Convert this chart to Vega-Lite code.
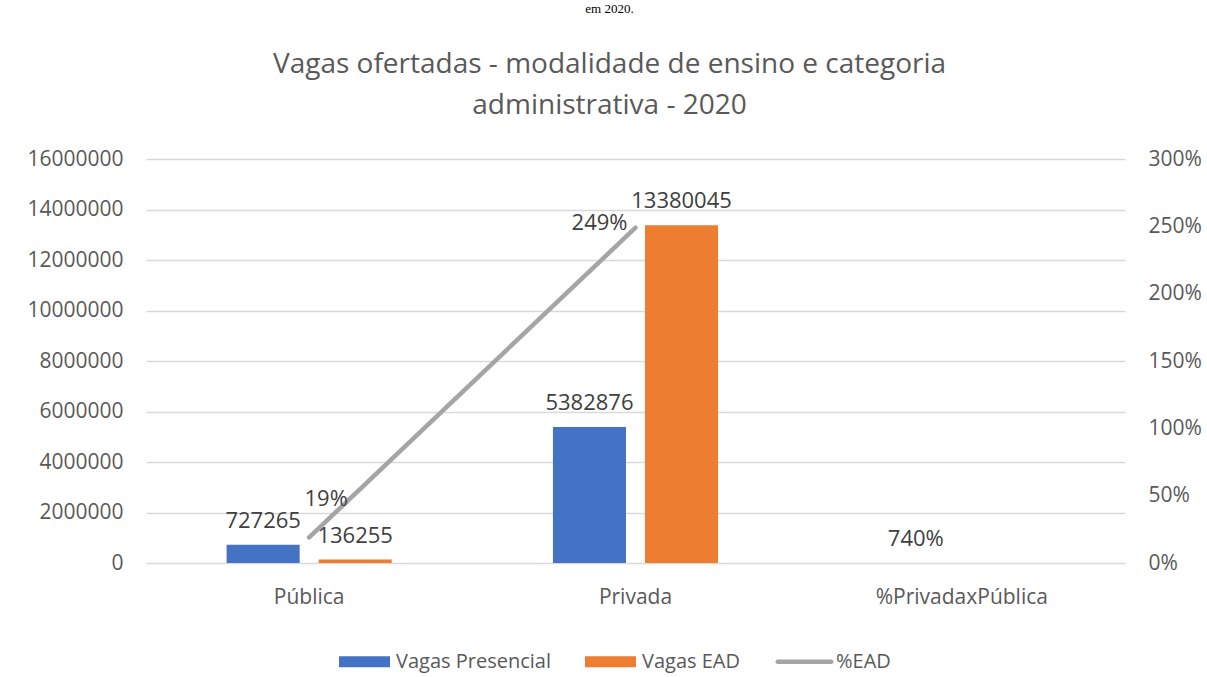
{
  "$schema": "https://vega.github.io/schema/vega-lite/v6.json",
  "autosize": {"type": "none"},
  "width": 979,
  "height": 404,
  "padding": {"left": 146, "top": 159, "right": 82, "bottom": 114},
  "background": "#ffffff",
  "title": {
    "text": "em 2020.",
    "font": "Liberation Serif",
    "fontSize": 13,
    "fontWeight": "normal",
    "color": "#000000",
    "subtitle": ["Vagas ofertadas - modalidade de ensino e categoria", "administrativa - 2020"],
    "subtitleFont": "Open Sans",
    "subtitleFontSize": 28,
    "subtitleColor": "#595959",
    "subtitleLineHeight": 41,
    "subtitlePadding": 35,
    "anchor": "middle",
    "frame": "group",
    "dx": -26,
    "offset": 28
  },
  "data": {
    "values": [
      {"categoria": "Pública", "serie": "Vagas Presencial", "valor": 727265, "rotulo": "727265"},
      {"categoria": "Pública", "serie": "Vagas EAD", "valor": 136255, "rotulo": "136255"},
      {"categoria": "Privada", "serie": "Vagas Presencial", "valor": 5382876, "rotulo": "5382876"},
      {"categoria": "Privada", "serie": "Vagas EAD", "valor": 13380045, "rotulo": "13380045"},
      {"categoria": "%PrivadaxPública", "serie": "Vagas Presencial", "valor": 7.4, "rotulo": "740%"},
      {"categoria": "Pública", "serie": "%EAD", "valor": 0.19, "rotulo": "19%"},
      {"categoria": "Privada", "serie": "%EAD", "valor": 2.49, "rotulo": "249%"}
    ]
  },
  "encoding": {
    "x": {
      "field": "categoria",
      "type": "nominal",
      "sort": ["Pública", "Privada", "%PrivadaxPública"],
      "scale": {"type": "band", "paddingInner": 0.494, "paddingOuter": 0.247},
      "axis": {
        "title": null,
        "labelAngle": 0,
        "labelFont": "Open Sans",
        "labelFontSize": 21,
        "labelColor": "#595959",
        "labelPadding": 23,
        "ticks": false,
        "domain": false
      }
    }
  },
  "layer": [
    {
      "transform": [{"filter": "datum.serie !== '%EAD'"}],
      "encoding": {
        "y": {
          "field": "valor",
          "type": "quantitative",
          "scale": {"domain": [0, 16000000], "nice": false, "zero": true},
          "axis": {
            "title": null,
            "values": [0, 2000000, 4000000, 6000000, 8000000, 10000000, 12000000, 14000000, 16000000],
            "format": "d",
            "labelFont": "Open Sans",
            "labelFontSize": 21,
            "labelColor": "#595959",
            "labelPadding": 23,
            "ticks": false,
            "domain": false,
            "grid": true,
            "gridColor": "#D9D9D9",
            "gridWidth": 1.5
          }
        },
        "xOffset": {
          "field": "serie",
          "type": "nominal",
          "sort": ["Vagas Presencial", "Vagas EAD"],
          "scale": {"domain": ["Vagas Presencial", "Vagas EAD"], "paddingInner": 0.2065, "paddingOuter": 0}
        }
      },
      "layer": [
        {
          "mark": {"type": "bar"},
          "encoding": {
            "color": {
              "field": "serie",
              "type": "nominal",
              "scale": {
                "domain": ["Vagas Presencial", "Vagas EAD", "%EAD"],
                "range": ["#4472C4", "#ED7D31", "#A5A5A5"]
              },
              "legend": {
                "orient": "none",
                "legendX": 193,
                "legendY": 477,
                "direction": "horizontal",
                "title": null,
                "symbolSize": 2601,
                "labelFont": "Open Sans",
                "labelFontSize": 20,
                "labelColor": "#595959",
                "labelOffset": 6,
                "columnPadding": 34,
                "symbolStrokeWidth": 0,
                "encode": {
                  "symbols": {
                    "update": {
                      "shape": {"signal": "datum.value === '%EAD' ? 'M-1.05,-0.09H1.05A0.09,0.09,0,0,1,1.05,0.09H-1.05A0.09,0.09,0,0,1,-1.05,-0.09Z' : 'M-1,-0.22H1V0.22H-1Z'"},
                      "fill": {"scale": "color", "field": "value"},
                      "fillOpacity": {"value": 1},
                      "strokeWidth": {"value": 0}
                    }
                  }
                }
              }
            }
          }
        },
        {
          "mark": {"type": "text", "baseline": "alphabetic", "align": "center", "dy": -17, "font": "Open Sans", "fontSize": 22, "color": "#404040"},
          "encoding": {"text": {"field": "rotulo"}}
        }
      ]
    },
    {
      "transform": [{"filter": "datum.serie === '%EAD'"}],
      "encoding": {
        "y": {
          "field": "valor",
          "type": "quantitative",
          "scale": {"domain": [0, 3], "nice": false, "zero": true},
          "axis": {
            "orient": "right",
            "title": null,
            "values": [0, 0.5, 1, 1.5, 2, 2.5, 3],
            "format": ".0%",
            "labelFont": "Open Sans",
            "labelFontSize": 21,
            "labelColor": "#595959",
            "labelPadding": 23,
            "ticks": false,
            "domain": false,
            "grid": false
          }
        }
      },
      "layer": [
        {
          "mark": {"type": "line", "strokeWidth": 4.5, "strokeCap": "round"},
          "encoding": {"color": {"field": "serie", "type": "nominal"}}
        },
        {
          "transform": [{"filter": "datum.categoria === 'Pública'"}],
          "mark": {"type": "text", "baseline": "alphabetic", "align": "center", "dx": 17, "dy": -31, "font": "Open Sans", "fontSize": 22, "color": "#404040"},
          "encoding": {"text": {"field": "rotulo"}}
        },
        {
          "transform": [{"filter": "datum.categoria === 'Privada'"}],
          "mark": {"type": "text", "baseline": "alphabetic", "align": "right", "dx": -8, "dy": 2, "font": "Open Sans", "fontSize": 22, "color": "#404040"},
          "encoding": {"text": {"field": "rotulo"}}
        }
      ]
    }
  ],
  "resolve": {"scale": {"y": "independent"}, "axis": {"y": "independent"}},
  "config": {
    "view": {"stroke": null},
    "font": "Open Sans"
  }
}
